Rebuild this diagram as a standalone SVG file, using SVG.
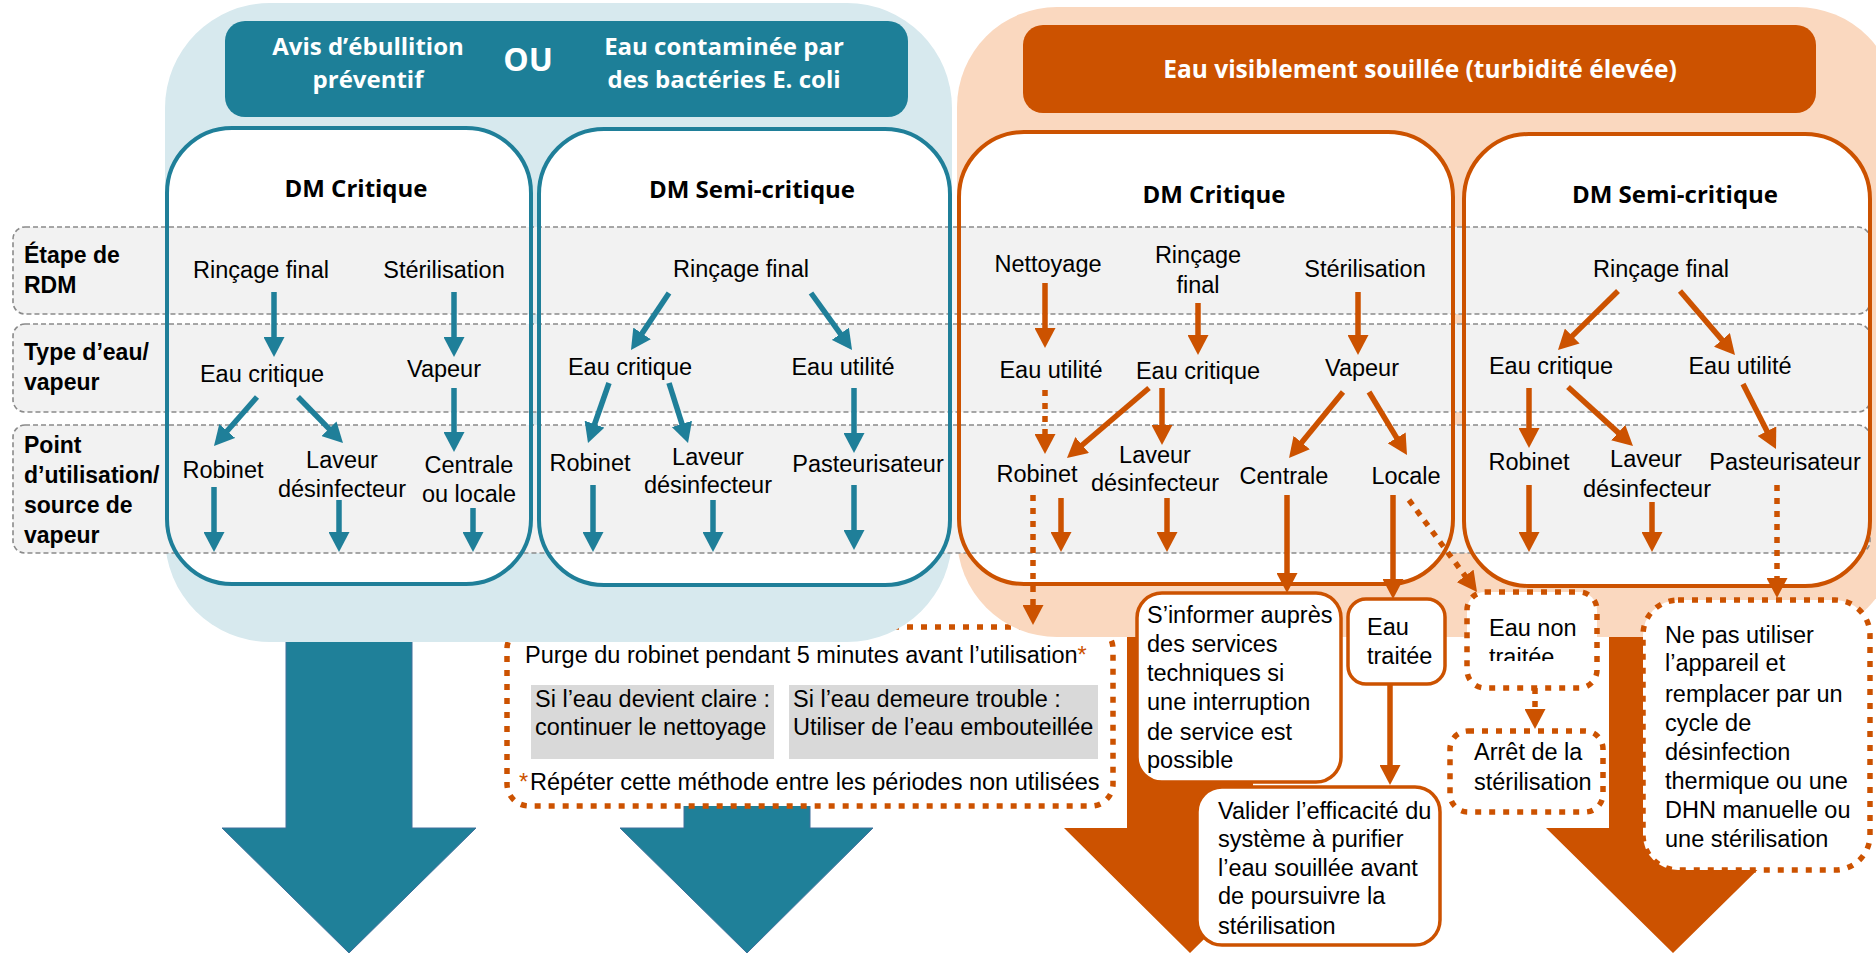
<svg xmlns="http://www.w3.org/2000/svg" width="1876" height="953" viewBox="0 0 1876 953">
<style>
.t{font-family:"Liberation Sans",Arial,Helvetica,sans-serif;font-size:23.5px;fill:#000}
.c{text-anchor:middle}
.b{font-weight:bold;font-size:23px}
.h{font-family:"Open Sans","Liberation Sans",sans-serif;font-weight:bold;font-size:24px;fill:#fff;text-anchor:middle}
.dm{font-family:"Open Sans","Liberation Sans",sans-serif;font-weight:bold;font-size:24px;fill:#000;text-anchor:middle}
.band{fill:#f2f2f2;stroke:#8a8a8a;stroke-width:1.6;stroke-dasharray:5 3}
.dmfill{fill:#fff;stroke:none}
.dmb{fill:none;stroke:#1f7f99;stroke-width:4}
.dmo{fill:none;stroke:#cc5200;stroke-width:4}
.ob{fill:#fff;stroke:#cc5200;stroke-width:3.5}
.od{fill:#fff;stroke:#cc5200;stroke-width:5.5;stroke-dasharray:6 8}
.ab{fill:none;stroke:#1f7f99;stroke-width:5.5;marker-end:url(#mb)}
.ao{fill:none;stroke:#cc5200;stroke-width:5.5;marker-end:url(#mo)}
.ad{fill:none;stroke:#cc5200;stroke-width:5.5;stroke-dasharray:6 7;marker-end:url(#mo)}
.star{fill:#cc5200}
</style>
<defs>
<marker id="mb" markerUnits="userSpaceOnUse" markerWidth="20" markerHeight="21" refX="3" refY="10.5" orient="auto"><path d="M0,0 L20,10.5 L0,21 z" fill="#1f7f99"/></marker>
<marker id="mo" markerUnits="userSpaceOnUse" markerWidth="20" markerHeight="21" refX="3" refY="10.5" orient="auto"><path d="M0,0 L20,10.5 L0,21 z" fill="#cc5200"/></marker>
<clipPath id="clipNT"><rect x="1470" y="600" width="125" height="61"/></clipPath>
</defs>

<!-- big block arrows -->
<g id="big-arrows">
<polygon points="286,600 412,600 412,828 476,828 349,953 222,828 286,828" fill="#1f8099" stroke="#41719c" stroke-width="1"/>
<polygon points="684,700 810,700 810,828 873,828 747,953 620,828 684,828" fill="#1f8099" stroke="#41719c" stroke-width="1"/>
<polygon points="1127,600 1253,600 1253,828 1317,828 1190,953 1064,828 1127,828" fill="#cc5200"/>
<polygon points="1609,600 1735,600 1735,828 1800,828 1673,953 1546,828 1609,828" fill="#cc5200"/>
</g>

<!-- purge box (under backgrounds) -->
<g id="purge">
<rect x="507" y="627" width="606" height="179" rx="22" class="od"/>
<text class="t" x="525" y="663">Purge du robinet pendant 5 minutes avant l’utilisation<tspan class="star">*</tspan></text>
<rect x="531" y="685" width="243" height="74" fill="#d9d9d9"/>
<rect x="789" y="685" width="309" height="74" fill="#d9d9d9"/>
<text class="t" x="535" y="707">Si l’eau devient claire :</text>
<text class="t" x="535" y="735">continuer le nettoyage</text>
<text class="t" x="793" y="707">Si l’eau demeure trouble :</text>
<text class="t" x="793" y="735">Utiliser de l’eau embouteillée</text>
<text class="t star" x="519" y="790">*</text>
<text class="t" x="530" y="790">Répéter cette méthode entre les périodes non utilisées</text>
</g>

<!-- backgrounds -->
<g id="backgrounds">
<rect x="165" y="3" width="787" height="639" rx="105" fill="#d7e9ee"/>
<rect x="957" y="7" width="940" height="630" rx="100" fill="#fad8bf"/>
</g>

<!-- headers -->
<g id="header-blue">
<rect x="225" y="21" width="683" height="96" rx="20" fill="#1d7f98"/>
<text class="h" x="368" y="55">Avis d’ébullition</text>
<text class="h" x="368" y="88">préventif</text>
<text class="h" x="528" y="71" style="font-size:32px">OU</text>
<text class="h" x="724" y="55">Eau contaminée par</text>
<text class="h" x="724" y="88">des bactéries E. coli</text>
</g>
<g id="header-orange">
<rect x="1023" y="25" width="793" height="88" rx="20" fill="#cc5200"/>
<text class="h" x="1420" y="78" style="font-size:24.5px">Eau visiblement souillée (turbidité élevée)</text>
</g>

<!-- DM box fills -->
<g id="dm-fills">
<rect x="167" y="128" width="364" height="456" rx="65" class="dmfill"/>
<rect x="539" y="129" width="411" height="456" rx="65" class="dmfill"/>
<rect x="959" y="132" width="494" height="452" rx="65" class="dmfill"/>
<rect x="1464" y="134" width="406" height="452" rx="65" class="dmfill"/>
</g>

<!-- row bands -->
<g id="rows">
<rect x="13" y="227" width="1857" height="87" rx="12" class="band"/>
<rect x="13" y="324" width="1857" height="88" rx="12" class="band"/>
<rect x="13" y="425" width="1857" height="128" rx="12" class="band"/>
<text class="t b" x="24" y="263">Étape de</text>
<text class="t b" x="24" y="293">RDM</text>
<text class="t b" x="24" y="360">Type d’eau/</text>
<text class="t b" x="24" y="390">vapeur</text>
<text class="t b" x="24" y="453">Point</text>
<text class="t b" x="24" y="483">d’utilisation/</text>
<text class="t b" x="24" y="513">source de</text>
<text class="t b" x="24" y="543">vapeur</text>
</g>

<!-- DM boxes -->
<g id="dm-blue-critique">
<rect x="167" y="128" width="364" height="456" rx="65" class="dmb"/>
<text class="dm" x="356" y="197">DM Critique</text>
<text class="t c" x="261" y="278">Rinçage final</text>
<text class="t c" x="444" y="278">Stérilisation</text>
<text class="t c" x="262" y="382">Eau critique</text>
<text class="t c" x="444" y="377">Vapeur</text>
<text class="t c" x="223" y="478">Robinet</text>
<text class="t c" x="342" y="468">Laveur</text>
<text class="t c" x="342" y="497">désinfecteur</text>
<text class="t c" x="469" y="473">Centrale</text>
<text class="t c" x="469" y="502">ou locale</text>
</g>
<g id="dm-blue-semi">
<rect x="539" y="129" width="411" height="456" rx="65" class="dmb"/>
<text class="dm" x="752" y="198">DM Semi-critique</text>
<text class="t c" x="741" y="277">Rinçage final</text>
<text class="t c" x="630" y="375">Eau critique</text>
<text class="t c" x="843" y="375">Eau utilité</text>
<text class="t c" x="590" y="471">Robinet</text>
<text class="t c" x="708" y="465">Laveur</text>
<text class="t c" x="708" y="493">désinfecteur</text>
<text class="t c" x="868" y="472">Pasteurisateur</text>
</g>
<g id="dm-orange-critique">
<rect x="959" y="132" width="494" height="452" rx="65" class="dmo"/>
<text class="dm" x="1214" y="203">DM Critique</text>
<text class="t c" x="1048" y="272">Nettoyage</text>
<text class="t c" x="1198" y="263">Rinçage</text>
<text class="t c" x="1198" y="293">final</text>
<text class="t c" x="1365" y="277">Stérilisation</text>
<text class="t c" x="1051" y="378">Eau utilité</text>
<text class="t c" x="1198" y="379">Eau critique</text>
<text class="t c" x="1362" y="376">Vapeur</text>
<text class="t c" x="1037" y="482">Robinet</text>
<text class="t c" x="1155" y="463">Laveur</text>
<text class="t c" x="1155" y="491">désinfecteur</text>
<text class="t c" x="1284" y="484">Centrale</text>
<text class="t c" x="1406" y="484">Locale</text>
</g>
<g id="dm-orange-semi">
<rect x="1464" y="134" width="406" height="452" rx="65" class="dmo"/>
<text class="dm" x="1675" y="203">DM Semi-critique</text>
<text class="t c" x="1661" y="277">Rinçage final</text>
<text class="t c" x="1551" y="374">Eau critique</text>
<text class="t c" x="1740" y="374">Eau utilité</text>
<text class="t c" x="1529" y="470">Robinet</text>
<text class="t c" x="1646" y="467">Laveur</text>
<text class="t c" x="1647" y="497">désinfecteur</text>
<text class="t c" x="1785" y="470">Pasteurisateur</text>
</g>

<!-- lower boxes -->
<g id="informer">
<rect x="1137" y="593" width="204" height="189" rx="25" class="ob"/>
<text class="t" x="1147" y="623">S’informer auprès</text>
<text class="t" x="1147" y="652">des services</text>
<text class="t" x="1147" y="681">techniques si</text>
<text class="t" x="1147" y="710">une interruption</text>
<text class="t" x="1147" y="740">de service est</text>
<text class="t" x="1147" y="768">possible</text>
</g>
<g id="eau-traitee">
<rect x="1348" y="599" width="97" height="85" rx="18" class="ob"/>
<text class="t" x="1367" y="635">Eau</text>
<text class="t" x="1367" y="664">traitée</text>
</g>
<g id="valider">
<rect x="1197" y="787" width="243" height="158" rx="25" class="ob"/>
<text class="t" x="1218" y="819">Valider l’efficacité du</text>
<text class="t" x="1218" y="847">système à purifier</text>
<text class="t" x="1218" y="876">l’eau souillée avant</text>
<text class="t" x="1218" y="904">de poursuivre la</text>
<text class="t" x="1218" y="934">stérilisation</text>
</g>
<g id="eau-non-traitee">
<rect x="1467" y="592" width="130" height="96" rx="18" class="od"/>
<text class="t" x="1489" y="636">Eau non</text>
<text class="t" x="1489" y="665" clip-path="url(#clipNT)">traitée</text>
</g>
<g id="arret">
<rect x="1450" y="731" width="153" height="81" rx="18" class="od"/>
<text class="t" x="1474" y="760">Arrêt de la</text>
<text class="t" x="1474" y="790">stérilisation</text>
</g>
<g id="ne-pas">
<rect x="1643" y="600" width="227" height="270" rx="35" class="od"/>
<text class="t" x="1665" y="643">Ne pas utiliser</text>
<text class="t" x="1665" y="671">l’appareil et</text>
<text class="t" x="1665" y="702">remplacer par un</text>
<text class="t" x="1665" y="731">cycle de</text>
<text class="t" x="1665" y="760">désinfection</text>
<text class="t" x="1665" y="789">thermique ou une</text>
<text class="t" x="1665" y="818">DHN manuelle ou</text>
<text class="t" x="1665" y="847">une stérilisation</text>
</g>

<!-- connectors -->
<g id="connectors">
<path class="ab" d="M274,292 L274,340"/>
<path class="ab" d="M454,292 L454,340"/>
<path class="ab" d="M454,388 L454,435"/>
<path class="ab" d="M257,397 L225.2,433.2"/>
<path class="ab" d="M298,397 L331.1,430.9"/>
<path class="ab" d="M214,487 L214,535"/>
<path class="ab" d="M339,500 L339,535"/>
<path class="ab" d="M473,508 L473,535"/>

<path class="ab" d="M669,293 L640.4,335.9"/>
<path class="ab" d="M811,293 L842.1,336.2"/>
<path class="ab" d="M609,383 L593.6,427"/>
<path class="ab" d="M669,383 L682.9,426.8"/>
<path class="ab" d="M854,388 L854,436"/>
<path class="ab" d="M593,485 L593,535"/>
<path class="ab" d="M713,500 L713,535"/>
<path class="ab" d="M854,485 L854,533"/>

<path class="ao" d="M1045,283 L1045,331"/>
<path class="ao" d="M1198,303 L1198,338"/>
<path class="ao" d="M1358,292 L1358,338"/>
<path class="ad" d="M1045,390 L1045,437"/>
<path class="ao" d="M1149,388 L1079.9,447"/>
<path class="ao" d="M1162,388 L1162,428"/>
<path class="ao" d="M1343,392 L1299.8,444.8"/>
<path class="ao" d="M1369,392 L1398.2,440.4"/>
<path class="ad" d="M1033,495 L1033,608"/>
<path class="ao" d="M1061,498 L1061,535"/>
<path class="ao" d="M1167,498 L1167,535"/>
<path class="ao" d="M1287,495 L1287,576"/>
<path class="ao" d="M1393,495 L1393,582"/>
<path class="ad" d="M1409,500 L1466.9,578.3"/>
<path class="ao" d="M1390,684 L1390,768"/>
<path class="ad" d="M1535,688 L1535,712"/>

<path class="ao" d="M1618,291 L1570.1,338.1"/>
<path class="ao" d="M1680,291 L1723.9,342.1"/>
<path class="ao" d="M1529,388 L1529,431"/>
<path class="ao" d="M1568,387 L1620.4,434.6"/>
<path class="ao" d="M1743,384 L1768.3,433.8"/>
<path class="ao" d="M1529,485 L1529,535"/>
<path class="ao" d="M1652,502 L1652,535"/>
<path class="ad" d="M1777,485 L1777,581"/>
</g>
</svg>
